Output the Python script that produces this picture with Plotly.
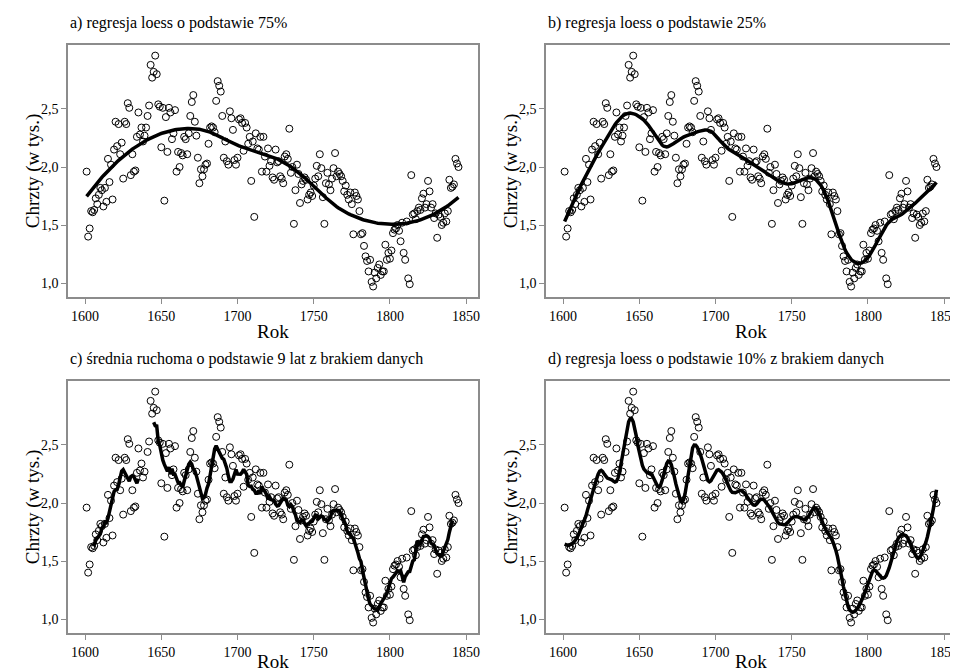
import numpy as np
import plotly.graph_objects as go

# ---------------- data (baptisms, thousands) ----------------
first_year = 1601
last_year = 1845
v1601_1650 = [1.96, 1.40, 1.47, 1.62, 1.61, 1.63, 1.73, 1.68, 1.76, 1.82,
              1.80, 1.66, 1.82, 1.70, 2.07, 1.87, 2.02, 1.72, 2.15, 2.39,
              2.18, 2.37, 2.11, 2.21, 1.90, 2.39, 2.37, 2.55, 2.51, 1.93,
              2.11, 1.96, 1.97, 2.26, 2.47, 2.28, 2.34, 2.22, 2.27, 2.34,
              2.44, 2.53, 2.88, 2.77, 2.82, 2.96, 2.80, 2.54, 2.52, 2.17]
v1651_1700 = [2.51, 1.71, 2.43, 2.13, 2.51, 2.47, 2.24, 2.29, 2.49, 1.96,
              2.13, 2.00, 2.12, 2.10, 2.26, 2.24, 2.11, 2.29, 2.44, 2.56,
              2.62, 2.39, 2.27, 2.08, 1.86, 1.98, 1.92, 1.98, 2.02, 2.03,
              2.20, 2.34, 2.35, 2.34, 2.30, 2.57, 2.74, 2.70, 2.65, 2.44,
              2.08, 2.22, 2.05, 2.02, 2.48, 2.42, 2.32, 2.06, 2.02, 2.08]
v1701_1750 = [2.41, 2.42, 2.38, 2.14, 2.38, 2.34, 2.20, 2.26, 1.88, 2.22,
              1.57, 2.29, 2.16, 2.15, 2.26, 1.96, 2.26, 2.09, 1.96, 2.16,
              2.01, 2.05, 1.91, 1.89, 2.15, 2.04, 2.05, 1.92, 1.90, 1.86,
              2.09, 2.11, 2.07, 2.33, 1.95, 2.00, 1.51, 1.80, 2.02, 1.94,
              1.69, 1.85, 1.88, 1.91, 1.89, 1.72, 1.76, 1.78, 1.75, 1.84]
v1751_1800 = [1.90, 2.01, 1.92, 2.11, 1.99, 1.74, 1.51, 1.86, 1.95, 1.85,
              1.80, 1.90, 1.99, 2.12, 1.92, 1.96, 1.94, 1.92, 1.88, 1.79,
              1.84, 1.76, 1.72, 1.78, 1.68, 1.42, 1.78, 1.75, 1.72, 1.62,
              1.42, 1.43, 1.32, 1.23, 1.19, 1.10, 1.20, 1.01, 0.97, 1.09,
              1.04, 1.13, 1.16, 1.07, 1.10, 1.10, 1.33, 1.20, 1.26, 1.21]
v1801_1845 = [1.28, 1.43, 1.46, 1.47, 1.50, 1.45, 1.36, 1.52, 1.26, 1.20,
              1.53, 1.04, 0.99, 1.93, 1.59, 1.60, 1.55, 1.62, 1.65, 1.63,
              1.73, 1.77, 1.65, 1.68, 1.88, 1.79, 1.65, 1.68, 1.56, 1.60,
              1.39, 1.59, 1.57, 1.50, 1.52, 1.60, 1.53, 1.62, 1.89, 1.82,
              1.83, 1.85, 2.07, 2.03, 2.00]
missing_years = [1640]

titles = ["a) regresja loess o podstawie 75%",
          "b) regresja loess o podstawie 25%",
          "c) średnia ruchoma o podstawie 9 lat z brakiem danych",
          "d) regresja loess o podstawie 10% z brakiem danych"]
x_title = "Rok"
y_title = "Chrzty (w tys.)"
x_ticks = [1600, 1650, 1700, 1750, 1800, 1850]
y_ticks = [1.0, 1.5, 2.0, 2.5]
y_ticktext = ["1,0", "1,5", "2,0", "2,5"]
spans = [0.75, 0.25, None, 0.10]
ma_window = 9

# ---------------- derived ----------------
years = np.arange(first_year, last_year + 1)
vals = np.array(v1601_1650 + v1651_1700 + v1701_1750 + v1751_1800 + v1801_1845, dtype=float)
vals_miss = vals.copy()
for m in missing_years:
    vals_miss[years == m] = np.nan


def loess(x, y, span, degree=2):
    ok = ~np.isnan(y)
    xs, ys = x[ok].astype(float), y[ok]
    n = len(xs)
    q = int(np.floor(n * span))
    out = []
    for x0 in xs:
        d = np.abs(xs - x0)
        h = np.sort(d)[q - 1]
        u = np.clip(d / h, 0, 1)
        w = (1 - u ** 3) ** 3
        X = np.vstack([(xs - x0) ** k for k in range(degree + 1)]).T
        W = np.sqrt(w)
        beta, *_ = np.linalg.lstsq(X * W[:, None], ys * W, rcond=None)
        out.append(beta[0])
    return xs, np.array(out)


def moving_avg(y, k):
    half = k // 2
    out = np.full(len(y), np.nan)
    for i in range(half, len(y) - half):
        win = y[i - half:i + half + 1]
        if not np.any(np.isnan(win)):
            out[i] = win.mean()
    return out


W, H = 958, 672
boxes = [(60.3, 471.0, 36.7, 289.3), (539.3, 950.0, 36.7, 289.3),
         (60.3, 471.0, 372.7, 625.3), (539.3, 950.0, 372.7, 625.3)]
rok_offsets = [34, 34, 28, 28]
xr = [1588.9, 1857.8]
yr = [0.877, 3.054]
FONT = "Liberation Serif, Times New Roman, serif"

fig = go.Figure()
layout = dict(width=W, height=H, margin=dict(l=0, r=0, t=0, b=0),
              paper_bgcolor="white", plot_bgcolor="white", showlegend=False,
              font=dict(family=FONT, color="black", size=14))
annotations = []
for i, (x0, x1, y0, y1) in enumerate(boxes):
    k = "" if i == 0 else str(i + 1)
    xa, ya = "x" + k, "y" + k
    axis_common = dict(showgrid=False, zeroline=False, showline=True, mirror=True,
                       linecolor="#8c8c8c", linewidth=1.5, ticks="outside",
                       ticklen=5, tickcolor="#8c8c8c", tickwidth=1,
                       tickfont=dict(family=FONT, size=14, color="black"))
    layout["xaxis" + k] = dict(domain=[x0 / W, x1 / W], range=xr, tickvals=x_ticks,
                               anchor=ya, **axis_common)
    layout["yaxis" + k] = dict(domain=[1 - y1 / H, 1 - y0 / H], range=yr, tickvals=y_ticks,
                               ticktext=y_ticktext, anchor=xa, **axis_common)
    yy = vals if i < 2 else vals_miss
    ok = ~np.isnan(yy)
    fig.add_trace(go.Scatter(x=years[ok], y=yy[ok], mode="markers", xaxis=xa, yaxis=ya,
                             marker=dict(symbol="circle-open", size=7, color="black",
                                         line=dict(width=1, color="black"))))
    if spans[i] is None:
        lx, ly = years, moving_avg(yy, ma_window)
    else:
        lx, ly = loess(years, yy, spans[i])
    fig.add_trace(go.Scatter(x=lx, y=ly, mode="lines", xaxis=xa, yaxis=ya,
                             line=dict(color="black", width=3.5), connectgaps=False))
    annotations.append(dict(text=titles[i], x=x0 / W, y=1 - (y0 - 22) / H, xref="paper",
                            yref="paper", xanchor="left", yanchor="middle", showarrow=False,
                            font=dict(family=FONT, size=16, color="black")))
    annotations.append(dict(text=x_title, x=(x0 + x1) / 2 / W, y=1 - (y1 + rok_offsets[i]) / H,
                            xref="paper", yref="paper", xanchor="center", yanchor="middle",
                            showarrow=False, font=dict(family=FONT, size=19, color="black")))
    annotations.append(dict(text=y_title, x=(x0 - 35) / W, y=1 - (y0 + y1) / 2 / H,
                            xref="paper", yref="paper", xanchor="center", yanchor="middle",
                            textangle=-90, showarrow=False,
                            font=dict(family=FONT, size=19, color="black")))
layout["annotations"] = annotations
fig.update_layout(**layout)
fig.write_html("out.html")
